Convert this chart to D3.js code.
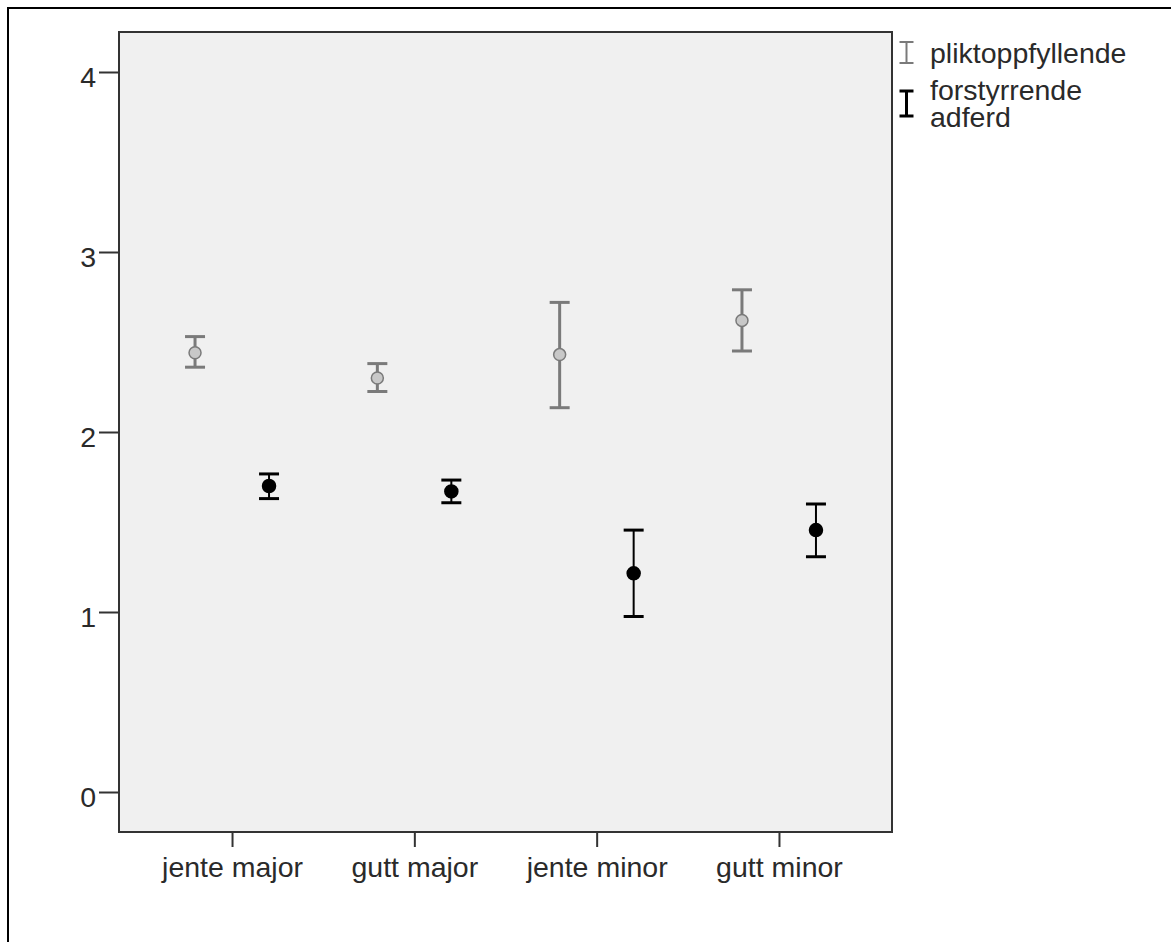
<!DOCTYPE html>
<html>
<head>
<meta charset="utf-8">
<script src="https://cdn.jsdelivr.net/npm/d3@7"></script>
<style>
  html, body { margin: 0; padding: 0; background: #fff; }
  svg text { font-family: "Liberation Sans", Arial, sans-serif; fill: #2a2a2a; }
</style>
</head>
<body>
<svg id="chart" width="1171" height="942"></svg>
<script>
const categories = ["jente major", "gutt major", "jente minor", "gutt minor"];
const seriesNames = ["pliktoppfyllende", "forstyrrende adferd"];
const pliktMean  = [2.44, 2.30, 2.43, 2.62];
const pliktLow   = [2.36, 2.225, 2.135, 2.45];
const pliktHigh  = [2.53, 2.38, 2.72, 2.79];
const forstMean  = [1.70, 1.67, 1.215, 1.455];
const forstLow   = [1.63, 1.607, 0.975, 1.307];
const forstHigh  = [1.767, 1.733, 1.455, 1.60];
const yTicks = [0, 1, 2, 3, 4];

const FS = 28.5;
const svg = d3.select("#chart");
const plot = { left: 119, right: 892, top: 32, bottom: 832 };

// outer frame
svg.append("rect").attr("x", 8).attr("y", 8).attr("width", 1200).attr("height", 1000)
  .attr("fill", "none").attr("stroke", "#000").attr("stroke-width", 2);

const x = d3.scalePoint().domain(categories).range([plot.left, plot.right]).padding(0.62);
const y = d3.scaleLinear().domain([-0.2222, 4.2222]).range([plot.bottom, plot.top]);

svg.append("rect").attr("x", plot.left).attr("y", plot.top)
  .attr("width", plot.right - plot.left).attr("height", plot.bottom - plot.top)
  .attr("fill", "#f0f0f0").attr("stroke", "#333").attr("stroke-width", 2);

// y axis
const yAxis = d3.axisLeft(y).tickValues(yTicks).tickSize(20).tickPadding(3).tickFormat(d3.format("d"));
const gy = svg.append("g").attr("transform", `translate(${plot.left},0)`).call(yAxis);
gy.select(".domain").remove();
gy.selectAll(".tick line").attr("stroke", "#333").attr("stroke-width", 2);
gy.selectAll(".tick text").attr("font-size", FS).attr("dy", "0.5em").attr("fill", "#2a2a2a");

// x axis
const xAxis = d3.axisBottom(x).tickSize(15).tickPadding(10);
const gx = svg.append("g").attr("transform", `translate(0,${plot.bottom})`).call(xAxis);
gx.select(".domain").remove();
gx.selectAll(".tick line").attr("stroke", "#333").attr("stroke-width", 2);
gx.selectAll(".tick text").attr("font-size", FS).attr("fill", "#2a2a2a");

const series = [
  { mean: pliktMean, low: pliktLow, high: pliktHigh, dx: -37, stroke: "#7a7a7a", sw: 3, capw: 3, fill: "#c8c8c8", r: 6 },
  { mean: forstMean, low: forstLow, high: forstHigh, dx: 37, stroke: "#000", sw: 2, capw: 3, fill: "#000", r: 6.5 }
];

series.forEach(s => {
  const g = svg.append("g");
  categories.forEach((c, i) => {
    const cx = x(c) + s.dx;
    g.append("line").attr("x1", cx).attr("x2", cx).attr("y1", y(s.high[i])).attr("y2", y(s.low[i]))
      .attr("stroke", s.stroke).attr("stroke-width", s.sw);
    [s.high[i], s.low[i]].forEach(v => {
      g.append("line").attr("x1", cx - 10).attr("x2", cx + 10).attr("y1", y(v)).attr("y2", y(v))
        .attr("stroke", s.stroke).attr("stroke-width", s.capw);
    });
    g.append("circle").attr("cx", cx).attr("cy", y(s.mean[i])).attr("r", s.r)
      .attr("fill", s.fill).attr("stroke", s.stroke).attr("stroke-width", 1.5);
  });
});

// legend
const leg = svg.append("g");
function legendI(cx, y1, y2, color, sw) {
  leg.append("line").attr("x1", cx).attr("x2", cx).attr("y1", y1).attr("y2", y2).attr("stroke", color).attr("stroke-width", sw);
  leg.append("line").attr("x1", cx - 7).attr("x2", cx + 7).attr("y1", y1).attr("y2", y1).attr("stroke", color).attr("stroke-width", sw);
  leg.append("line").attr("x1", cx - 7).attr("x2", cx + 7).attr("y1", y2).attr("y2", y2).attr("stroke", color).attr("stroke-width", sw);
}
legendI(906.5, 42, 63, "#7a7a7a", 2);
legendI(906.5, 91, 116, "#000", 3);
leg.append("text").attr("x", 930).attr("y", 63).attr("font-size", FS).text(seriesNames[0]);
const t2 = leg.append("text").attr("x", 930).attr("y", 100).attr("font-size", FS);
t2.append("tspan").attr("x", 930).attr("y", 100).text("forstyrrende");
t2.append("tspan").attr("x", 930).attr("y", 127).text("adferd");
</script>
</body>
</html>
